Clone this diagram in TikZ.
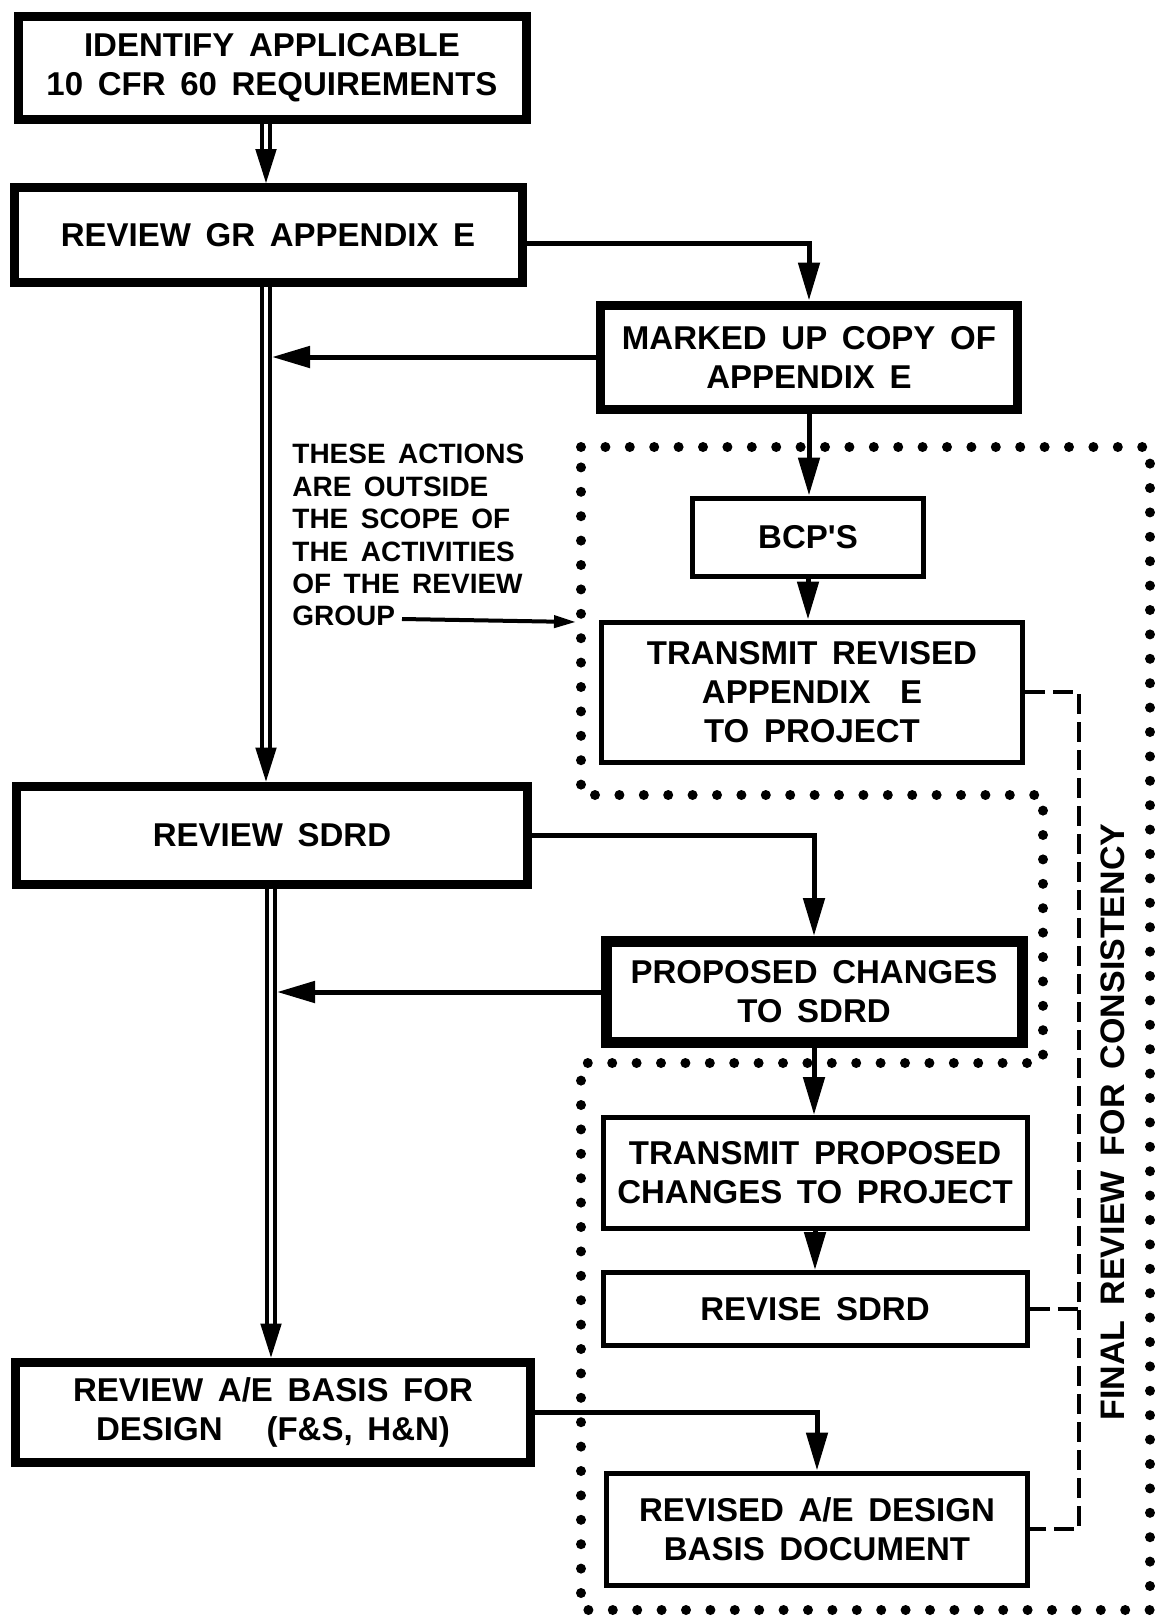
\documentclass[tikz,border=0pt]{standalone}
\usepackage{fontspec}
\newfontfamily\labfont[WordSpace=1.6]{Liberation Sans}
\usetikzlibrary{arrows.meta,calc}
\begin{document}
\begin{tikzpicture}[x=0.5pt,y=-0.5pt,
  box/.style={draw, rectangle, inner sep=0pt, align=center, font=\labfont\bfseries\fontsize{16.5}{19.5}\selectfont},
  thickbox/.style={box, line width=4.5pt},
  thinbox/.style={box, line width=2.5pt},
  arr/.style={line width=2.5pt, -{Triangle[length=19pt,width=10.5pt]}},
  tiponly/.style={line width=1pt, -{Triangle[length=17pt,width=10.5pt]}},
  dbl/.style={double, double distance=2.3pt, line width=1.8pt},
  dotline/.style={line width=5pt, line cap=round, dash pattern=on 0pt off 12.2pt},
  dashln/.style={line width=1.9pt, dash pattern=on 10pt off 4pt},
  notefont/.style={font=\labfont\bfseries\fontsize{14}{16.2}\selectfont},
]
\useasboundingbox (0,0) rectangle (1155,1618);

% boxes
\node[thickbox, minimum width=254pt, minimum height=51.5pt] (b1) at (272,68) {IDENTIFY APPLICABLE\\10 CFR 60 REQUIREMENTS};
\node[thickbox, minimum width=254pt, minimum height=47.5pt] (b2) at (268,235) {REVIEW GR APPENDIX E};
\node[thickbox, minimum width=208.5pt, minimum height=52pt] (b3) at (809,357) {MARKED UP COPY OF\\APPENDIX E};
\node[thinbox, minimum width=115.5pt, minimum height=39pt] (bcp) at (808,537) {BCP'S};
\node[thinbox, minimum width=210.5pt, minimum height=70pt] (tr) at (812,692) {TRANSMIT REVISED\\APPENDIX\ \ E\\TO PROJECT};
\node[thickbox, minimum width=255.5pt, minimum height=49pt] (b4) at (272,835) {REVIEW SDRD};
\node[box, line width=5.5pt, minimum width=208pt, minimum height=50.5pt] (b5) at (814,992) {PROPOSED CHANGES\\TO SDRD};
\node[thinbox, minimum width=212pt, minimum height=55.5pt] (b7) at (815,1173) {TRANSMIT PROPOSED\\CHANGES TO PROJECT};
\node[thinbox, minimum width=212pt, minimum height=36.5pt] (b8) at (815,1309) {REVISE SDRD};
\node[thickbox, minimum width=257.5pt, minimum height=50pt] (b6) at (273,1412) {REVIEW A/E BASIS FOR\\DESIGN\ \ \ (F\&S, H\&N)};
\node[thinbox, minimum width=210.5pt, minimum height=56pt] (b9) at (817,1529) {REVISED A/E DESIGN\\BASIS DOCUMENT};

% note
\node[notefont, anchor=north west, align=left, inner sep=0pt] (note) at (292,444) {THESE ACTIONS\\ARE OUTSIDE\\THE SCOPE OF\\THE ACTIVITIES\\OF THE REVIEW\\GROUP};
\coordinate (gs) at (402,619);
\coordinate (ge) at (576,622);
\draw[line width=2pt, -{Triangle[length=11pt,width=6pt]}] (gs) -- (ge);

% dotted region
\draw[dotline] (581,447) -- (1150,447) -- (1150,1610) -- (581,1610) -- (581,1063) -- (1043,1063) -- (1043,795) -- (581,795) -- cycle;

% double-line flows
\coordinate (d0) at (266,0);
\coordinate (d1) at (271,0);
\coordinate (r0) at (272,0);
\coordinate (r1) at (277,0);
\draw[dbl] (b1.south -| d0) -- ($(b2.north -| d0)+(0,-32)$);
\draw[tiponly] ($(b2.north -| d0)+(0,-34)$) -- (b2.north -| d0);
\draw[dbl] (b2.south -| d0) -- ($(b4.north -| d0)+(0,-32)$);
\draw[tiponly] ($(b4.north -| d0)+(0,-34)$) -- (b4.north -| d0);
\draw[dbl] (b4.south -| d1) -- ($(b6.north -| d1)+(0,-32)$);
\draw[tiponly] ($(b6.north -| d1)+(0,-34)$) -- (b6.north -| d1);

% single arrows
\draw[arr] ([yshift=-4pt]b2.east) -| (b3.north);
\draw[arr] (b3.west) -- (b3.west -| r0);
\draw[arr] (b3.south) -- (b3.south |- bcp.north);
\draw[arr] (bcp.south) -- (bcp.south |- tr.north);
\draw[arr] (b4.east) -| (b5.north);
\draw[arr] (b5.west) -- (b5.west -| r1);
\draw[arr] (b5.south) -- (b5.south |- b7.north);
\draw[arr] (b7.south) -- (b7.south |- b8.north);
\draw[arr] (b6.east) -| (b9.north);

% final review bracket
\coordinate (dv) at (1079,0);
\draw[dashln] (tr.east) -- (tr.east -| dv) -- (b9.east -| dv) -- (b9.east);
\draw[dashln] (b8.east) -- (b8.east -| dv);
\node[rotate=90, font=\labfont\bfseries\fontsize{17}{20}\selectfont] (fr) at (1113,1122) {FINAL REVIEW FOR CONSISTENCY};
\end{tikzpicture}
\end{document}
